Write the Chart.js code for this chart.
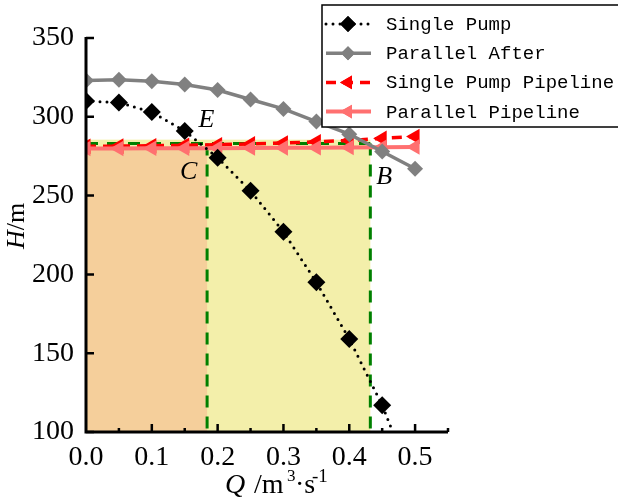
<!DOCTYPE html>
<html><head><meta charset="utf-8">
<script src="https://cdn.jsdelivr.net/npm/chart.js@4/dist/chart.umd.min.js"></script>
<style>html,body{margin:0;padding:0;background:#fff;}</style>
</head><body>
<canvas id="c" width="618" height="503"></canvas>
<script>
const flowQ = [0, 0.05, 0.1, 0.15, 0.2, 0.25, 0.3, 0.35, 0.4, 0.45, 0.5];
const singlePumpH = [310, 309, 303, 291, 274, 253, 227, 195, 159, 117, 64];
const parallelAfterH = [323, 323.5, 322.5, 320.5, 317, 311, 305, 297, 289, 278, 267];
const singlePipelineH = [281.3, 281.4, 281.6, 281.9, 282.3, 282.8, 283.4, 284.1, 285, 286.3, 287.5];
const parallelPipelineH = [279.9, 279.9, 280, 280, 280.1, 280.2, 280.3, 280.4, 280.5, 280.7, 280.9];
const seriesNames = ['Single Pump', 'Parallel After', 'Single Pump Pipeline', 'Parallel Pipeline'];
const xRange = [0, 0.55];
const yRange = [100, 350];
const xMinorStep = 0.05;
const opPointQ = [0.184, 0.432];   // C, B
const opPointH = 283;
const bandTopH = [279, 285.5];      // orange band, yellow band
const markLabels = ['E', 'C', 'B'];
const markQ = [0.183, 0.156, 0.453];
const markH = [298, 265, 262];

const pts = arr => flowQ.map((q, i) => ({x: q, y: arr[i]}));
const SERIF = 'Liberation Serif';

const datasets = [
  {label: seriesNames[0], data: pts(singlePumpH), borderColor: '#000', backgroundColor: '#000',
   borderWidth: 3, borderDash: [0, 7], borderCapStyle: 'round', pointStyle: 'rectRot', pointRadius: 9,
   pointBorderWidth: 0, order: 0},
  {label: seriesNames[1], data: pts(parallelAfterH), borderColor: 'rgb(128,128,128)', backgroundColor: 'rgb(128,128,128)',
   borderWidth: 3.5, pointStyle: 'rectRot', pointRadius: 8, pointBorderWidth: 0, order: 1},
  {label: seriesNames[2], data: pts(singlePipelineH), borderColor: 'rgb(255,0,0)', backgroundColor: 'rgb(255,0,0)',
   borderWidth: 3.5, borderDash: [10, 7], pointStyle: 'triangle', rotation: -90, pointRadius: 9,
   pointBorderWidth: 0, order: 3},
  {label: seriesNames[3], data: pts(parallelPipelineH), borderColor: 'rgb(255,112,112)', backgroundColor: 'rgb(255,112,112)',
   borderWidth: 4, pointStyle: 'triangle', rotation: -90, pointRadius: 9, pointBorderWidth: 0, order: 2}
];

const regionPlugin = {
  id: 'regions',
  beforeDatasetsDraw(chart) {
    const {ctx, chartArea: a, scales: {x, y}} = chart;
    ctx.save();
    ctx.beginPath(); ctx.rect(a.left, a.top, a.right - a.left, a.bottom - a.top); ctx.clip();
    const x0 = x.getPixelForValue(xRange[0]);
    const yb = y.getPixelForValue(yRange[0]);
    ctx.fillStyle = 'rgb(243,239,170)';
    let yt = y.getPixelForValue(bandTopH[1]);
    ctx.fillRect(x0, yt, x.getPixelForValue(opPointQ[1]) - x0, yb - yt);
    ctx.fillStyle = 'rgb(245,207,155)';
    yt = y.getPixelForValue(bandTopH[0]);
    ctx.fillRect(x0, yt, x.getPixelForValue(opPointQ[0]) - x0, yb - yt);
    ctx.strokeStyle = 'rgb(0,128,0)';
    ctx.lineWidth = 3;
    ctx.setLineDash([12, 9]);
    const yh = y.getPixelForValue(opPointH);
    const xC = x.getPixelForValue(opPointQ[0]);
    const xB = x.getPixelForValue(opPointQ[1]);
    ctx.beginPath(); ctx.moveTo(x0, yh); ctx.lineTo(xB, yh); ctx.stroke();
    ctx.beginPath(); ctx.moveTo(xC, yh); ctx.lineTo(xC, yb); ctx.stroke();
    ctx.beginPath(); ctx.moveTo(xB, yh); ctx.lineTo(xB, yb); ctx.stroke();
    ctx.restore();
  },
  afterDatasetsDraw(chart) {
    const {ctx, chartArea: a, scales: {x, y}} = chart;
    ctx.save();
    ctx.strokeStyle = '#000'; ctx.lineWidth = 3; ctx.setLineDash([]);
    ctx.beginPath();
    ctx.moveTo(a.left, a.top - 1); ctx.lineTo(a.left, a.bottom + 1.5);
    ctx.moveTo(a.left - 1.5, a.bottom); ctx.lineTo(a.right, a.bottom);
    ctx.stroke();
    ctx.lineWidth = 2.5;
    ctx.beginPath();
    const nX = Math.round((xRange[1] - xRange[0]) / xMinorStep);
    for (let i = 1; i <= nX; i++) {
      const px = x.getPixelForValue(xRange[0] + i * xMinorStep);
      const len = (i % 2 === 0) ? 8 : 4;
      ctx.moveTo(px, a.bottom); ctx.lineTo(px, a.bottom - len);
    }
    y.ticks.forEach(t => {
      const py = y.getPixelForValue(t.value);
      ctx.moveTo(a.left, py); ctx.lineTo(a.left + 8, py);
    });
    ctx.stroke();
    ctx.fillStyle = '#000';
    ctx.font = 'italic 26px "' + SERIF + '"';
    ctx.textAlign = 'center'; ctx.textBaseline = 'middle';
    markLabels.forEach((s, i) => ctx.fillText(s, x.getPixelForValue(markQ[i]), y.getPixelForValue(markH[i])));
    ctx.textAlign = 'left'; ctx.textBaseline = 'alphabetic';
    const by = 493;
    const seg = (txt, font, px, dy) => { ctx.font = font; ctx.fillText(txt, px, by + dy); };
    seg('Q', 'italic 28px "' + SERIF + '"', 225, 0);
    seg('/m', '28px "' + SERIF + '"', 254, 0);
    seg('3', '17px "' + SERIF + '"', 287, -12);
    seg('\u00b7s', '28px "' + SERIF + '"', 295, 0);
    seg('-1', '19px "' + SERIF + '"', 312, -11);
    ctx.save();
    ctx.translate(24, 226);
    ctx.rotate(-Math.PI / 2);
    ctx.font = 'italic 26px "' + SERIF + '"';
    const wH = ctx.measureText('H').width;
    ctx.font = '26px "' + SERIF + '"';
    const wm = ctx.measureText('/m').width;
    let sx = -(wH + wm) / 2;
    ctx.font = 'italic 26px "' + SERIF + '"';
    ctx.fillText('H', sx, 0);
    ctx.font = '26px "' + SERIF + '"';
    ctx.fillText('/m', sx + wH, 0);
    ctx.restore();
    ctx.restore();
  },
  afterDraw(chart) {
    const {ctx} = chart;
    ctx.save();
    ctx.fillStyle = '#fff';
    ctx.fillRect(322, 5, 400, 122);
    ctx.strokeStyle = '#000'; ctx.lineWidth = 1.5; ctx.setLineDash([]);
    ctx.strokeRect(322, 5, 400, 122);
    chart.data.datasets.forEach((ds, i) => {
      const cy = 24 + i * 29.2;
      ctx.save();
      ctx.strokeStyle = ds.borderColor; ctx.lineWidth = ds.borderWidth;
      ctx.setLineDash(ds.borderDash || []);
      ctx.lineCap = ds.borderCapStyle || 'butt';
      ctx.beginPath(); ctx.moveTo(326, cy); ctx.lineTo(371, cy); ctx.stroke();
      ctx.setLineDash([]);
      ctx.fillStyle = ds.backgroundColor;
      Chart.helpers.drawPoint(ctx, {pointStyle: ds.pointStyle, rotation: ds.rotation || 0, radius: ds.pointRadius - 1, borderWidth: 0}, 348, cy);
      ctx.fill();
      ctx.restore();
      ctx.fillStyle = '#000';
      ctx.font = '19px "Liberation Mono"';
      ctx.textAlign = 'left'; ctx.textBaseline = 'middle';
      ctx.fillText(ds.label, 386, cy + 1);
    });
    ctx.restore();
  }
};

new Chart(document.getElementById('c'), {
  type: 'line',
  data: {datasets},
  options: {
    responsive: false, animation: false, devicePixelRatio: 1,
    layout: {padding: {left: 0, right: 170, top: 38, bottom: 0}},
    plugins: {legend: {display: false}, tooltip: {enabled: false}},
    scales: {
      x: {type: 'linear', min: xRange[0], max: xRange[1],
          border: {display: false}, grid: {display: false, drawTicks: false},
          ticks: {stepSize: 0.1, includeBounds: false, padding: 9, color: '#000', maxRotation: 0, autoSkip: false,
                  font: {family: SERIF, size: 28}, callback: v => v.toFixed(1)},
          afterFit(s) { s.height = 71; }},
      y: {min: yRange[0], max: yRange[1],
          border: {display: false}, grid: {display: false, drawTicks: false},
          ticks: {stepSize: 50, padding: 12, color: '#000', font: {family: SERIF, size: 28}},
          afterFit(s) { s.width = 86; }}
    }
  },
  plugins: [regionPlugin]
});
</script>
</body></html>
